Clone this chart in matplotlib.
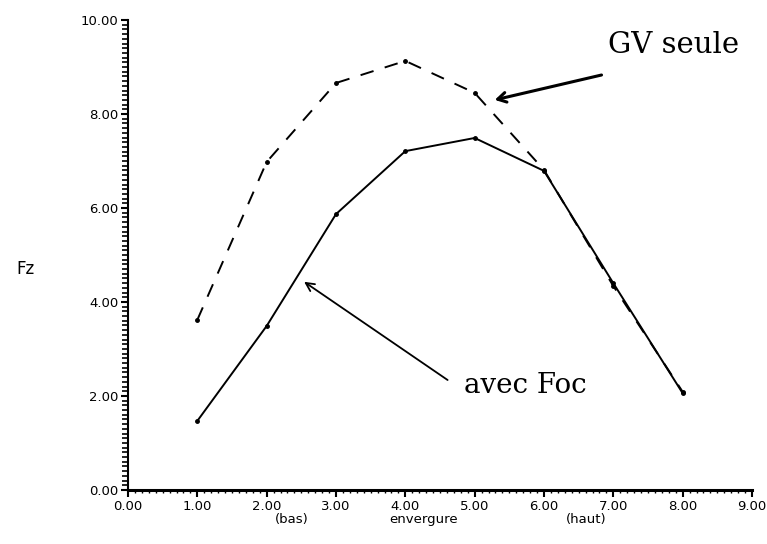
import matplotlib
matplotlib.use("Agg")
import matplotlib.pyplot as plt
from matplotlib.ticker import MultipleLocator, FormatStrFormatter

x_pos = [1, 2, 3, 4, 5, 6, 7, 8]
avec_foc = [1.47, 3.49, 5.87, 7.21, 7.49, 6.79, 4.40, 2.06]
gv_seule = [3.62, 6.98, 8.66, 9.13, 8.45, 6.81, 4.34, 2.09]

fig = plt.figure(figsize=(7.67, 5.44), dpi=100)
ax = fig.add_axes([0.1669, 0.0993, 0.8135, 0.8639])

ax.plot(x_pos, gv_seule, color="black", lw=1.4, dashes=(7, 6),
        marker="o", markersize=2.5)
ax.plot(x_pos, avec_foc, color="black", lw=1.4,
        marker="o", markersize=2.5)

ax.set_xlim(0, 9)
ax.set_ylim(0, 10)
ax.spines["top"].set_visible(False)
ax.spines["right"].set_visible(False)
ax.spines["bottom"].set_linewidth(2.2)
ax.spines["left"].set_linewidth(1.5)

ax.xaxis.set_major_locator(MultipleLocator(1))
ax.yaxis.set_major_locator(MultipleLocator(2))
ax.xaxis.set_minor_locator(MultipleLocator(0.1))
ax.yaxis.set_minor_locator(MultipleLocator(0.1))
ax.xaxis.set_major_formatter(FormatStrFormatter("%.2f"))
ax.yaxis.set_major_formatter(FormatStrFormatter("%.2f"))
ax.tick_params(axis="both", which="major", direction="out", length=5, width=1.5,
               labelsize=9.5, pad=2)
ax.tick_params(axis="y", which="minor", direction="out", length=4, width=1.2)
ax.tick_params(axis="x", which="minor", direction="out", length=2.5, width=1)

fig.text(0.022, 0.505, "Fz", fontsize=12, ha="left", va="center")

ax.text(2.36, -0.62, "(bas)", fontsize=9.5, ha="center", va="center")
ax.text(4.26, -0.62, "envergure", fontsize=9.5, ha="center", va="center")
ax.text(6.61, -0.62, "(haut)", fontsize=9.5, ha="center", va="center")

ax.text(6.93, 9.47, "GV seule", fontsize=21, family="DejaVu Serif",
        ha="left", va="center")
ax.text(4.84, 2.23, "avec Foc", fontsize=20, family="DejaVu Serif",
        ha="left", va="center")

ax.annotate("", xy=(5.29, 8.30), xytext=(6.83, 8.83),
            arrowprops=dict(arrowstyle="->,head_length=0.6,head_width=0.35",
                            lw=2.2, color="black", shrinkA=0, shrinkB=0))
ax.annotate("", xy=(2.54, 4.43), xytext=(4.61, 2.34),
            arrowprops=dict(arrowstyle="->,head_length=0.6,head_width=0.3",
                            lw=1.3, color="black", shrinkA=0, shrinkB=0))

fig.savefig("out.png", dpi=100)
